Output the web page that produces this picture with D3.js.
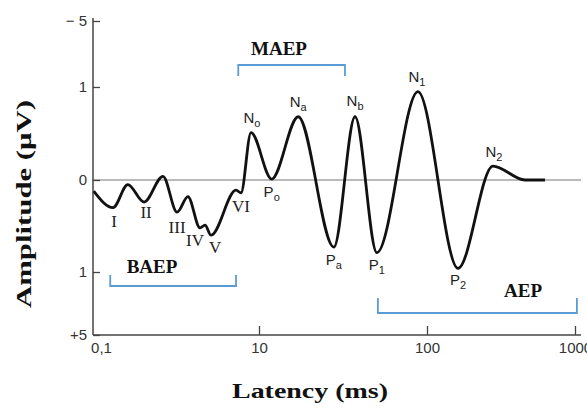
<!DOCTYPE html>
<html>
<head>
<meta charset="utf-8">
<script src="https://cdn.jsdelivr.net/npm/d3@7"></script>
<style>
  body { margin: 0; background: #fff; }
  svg { display: block; }
  .tick text { font-family: "Liberation Sans", Arial, sans-serif; font-size: 15px; fill: #333; }
  .tick line { stroke: #444; stroke-width: 1.3; }
  .title { font-family: "Liberation Serif", "Times New Roman", serif; font-weight: bold; fill: #111; }
</style>
</head>
<body>
<div id="chart"></div>
<script>
////// 資料 //////
// 座標軸刻度
var xTickValues = [1, 10, 100, 1000];
var xTickLabels = ['0,1', '10', '100', '1000'];
var yTickValues = [-5, -1, 0, 1, 5];
var yTickLabels = ['\u2212 5', '1', '0', '1', '+5'];

// 波形 (latency ms, amplitude μV; 正值向下)
var latency   = [1.01, 1.32, 1.62, 2.03, 2.64, 3.21, 3.73, 4.41, 4.73, 5.14, 7.27, 7.79, 8.95,
                 11.9, 17.1, 27.9, 37.3, 50.3, 88.3, 162, 279, 459, 627];
var amplitude = [0.12, 0.30, 0.05, 0.24, -0.04, 0.35, 0.18, 0.52, 0.49, 0.60, 0.11, 0.14, -0.51,
                 -0.01, -0.68, 0.73, -0.68, 0.79, -0.95, 0.96, -0.15, 0.00, 0.00];

// 波峰名稱 (對應 trace 的 index)
var peakNames = ['I', 'II', 'III', 'IV', 'V', 'VI', 'N', 'P', 'N', 'P', 'N', 'P', 'N', 'P', 'N'];
var peakSubs  = ['', '', '', '', '', '', 'o', 'o', 'a', 'a', 'b', '1', '1', '2', '2'];
var peakIndex = [1, 3, 5, 7, 9, 11, 12, 13, 14, 15, 16, 17, 18, 19, 20];

// 區段括號
var bandNames = ['BAEP', 'MAEP', 'AEP'];
var bandStart = [1.27, 7.5, 51];
var bandEnd   = [7.27, 32.5, 1030];

////// 畫布 //////
const chartWidth = 587;
const chartHeight = 412;
var svg = d3.select('#chart').append('svg')
  .attr('width', chartWidth)
  .attr('height', chartHeight);

var x = d3.scaleLog()
  .domain(xTickValues)
  .range([93, 259, 427, 575]);
var y = d3.scaleLinear()
  .domain(yTickValues)
  .range([21, 87, 180, 272, 335]);

var x0 = x(xTickValues[0]);
var xEnd = x(xTickValues[3]) + 4;
var yBottom = y(yTickValues[4]);

// 零線
svg.append('line')
  .attr('x1', x0).attr('x2', xEnd + 2)
  .attr('y1', y(0)).attr('y2', y(0))
  .attr('stroke', '#777').attr('stroke-width', 1.2);

// Y軸
var yAxis = d3.axisLeft(y)
  .tickValues(yTickValues)
  .tickFormat((d, i) => yTickLabels[i])
  .tickSizeInner(-7)
  .tickSizeOuter(0)
  .tickPadding(6);
var gy = svg.append('g')
  .attr('transform', `translate(${x0},0)`)
  .call(yAxis);
gy.select('.domain').remove();
gy.selectAll('.tick text').attr('x', -6);

// X軸
var xAxis = d3.axisBottom(x)
  .tickValues(xTickValues)
  .tickFormat((d, i) => xTickLabels[i])
  .tickSizeInner(-9)
  .tickSizeOuter(0)
  .tickPadding(7);
var gx = svg.append('g')
  .attr('transform', `translate(0,${yBottom})`)
  .call(xAxis);
gx.select('.domain').remove();
gx.selectAll('.tick').filter((d, i) => i == 0).select('line').remove();
gx.selectAll('.tick').filter((d, i) => i == 0).select('text').attr('x', 8);

// 軸線
svg.append('line')
  .attr('x1', x0).attr('x2', x0)
  .attr('y1', y(-5) - 3).attr('y2', yBottom)
  .attr('stroke', '#444').attr('stroke-width', 1.5);
svg.append('line')
  .attr('x1', x0).attr('x2', xEnd + 2)
  .attr('y1', yBottom).attr('y2', yBottom)
  .attr('stroke', '#444').attr('stroke-width', 1.5);

// 波形
var trace = latency.map((t, i) => ({t: t, v: amplitude[i]}));
var line = d3.line()
  .x(d => x(d.t))
  .y(d => y(d.v))
  .curve(d3.curveMonotoneX);
svg.append('path')
  .datum(trace)
  .attr('d', line)
  .attr('fill', 'none')
  .attr('stroke', '#111')
  .attr('stroke-width', 2.8)
  .attr('stroke-linejoin', 'round');

// 波峰標籤 (位置偏移)
var labelShift = [[1, 19], [2, 16], [0, 21], [-5, 18], [4, 18], [0, 19],
                  [1, -10], [0, 18], [0, -10], [0, 18], [0, -11], [0, 17], [-1, -10], [0, 17], [1, -9]];
peakIndex.forEach(function(k, i) {
  var d = trace[k];
  var roman = peakSubs[i] == '';
  var t = svg.append('text')
    .attr('x', x(d.t) + labelShift[i][0])
    .attr('y', y(d.v) + labelShift[i][1])
    .attr('text-anchor', 'middle')
    .style('font-family', roman ? '"Liberation Serif", serif' : '"Liberation Sans", Arial, sans-serif')
    .style('font-size', roman ? '17px' : '15px')
    .style('fill', '#222');
  t.append('tspan').text(peakNames[i]);
  if(!roman) {
    t.append('tspan')
      .attr('dy', 4)
      .style('font-size', '11px')
      .text(peakSubs[i]);
  }
});

// 區段括號
var bandLayout = [
  {bar: 286, arm: 275, tx: 152, ty: 273},
  {bar: 65, arm: 76, tx: 279, ty: 55},
  {bar: 313, arm: 298, tx: 523, ty: 297}
];
bandNames.forEach(function(name, i) {
  var L = bandLayout[i];
  var xa = x(bandStart[i]), xb = x(bandEnd[i]);
  svg.append('path')
    .attr('d', `M${xa},${L.arm}V${L.bar}H${xb}V${L.arm}`)
    .attr('fill', 'none')
    .attr('stroke', '#5b9bd5')
    .attr('stroke-width', 1.8);
  svg.append('text')
    .attr('class', 'title')
    .attr('x', L.tx)
    .attr('y', L.ty)
    .attr('text-anchor', 'middle')
    .style('font-size', '19px')
    .text(name);
});

// 軸標題
svg.append('text')
  .attr('class', 'title')
  .attr('x', 310)
  .attr('y', 398)
  .attr('text-anchor', 'middle')
  .attr('textLength', 156)
  .attr('lengthAdjust', 'spacingAndGlyphs')
  .style('font-size', '21px')
  .text('Latency (ms)');
svg.append('text')
  .attr('class', 'title')
  .attr('transform', 'translate(31,204) rotate(-90)')
  .attr('text-anchor', 'middle')
  .attr('textLength', 208)
  .attr('lengthAdjust', 'spacingAndGlyphs')
  .style('font-size', '22px')
  .text('Amplitude (\u03bcV)');
</script>
</body>
</html>
